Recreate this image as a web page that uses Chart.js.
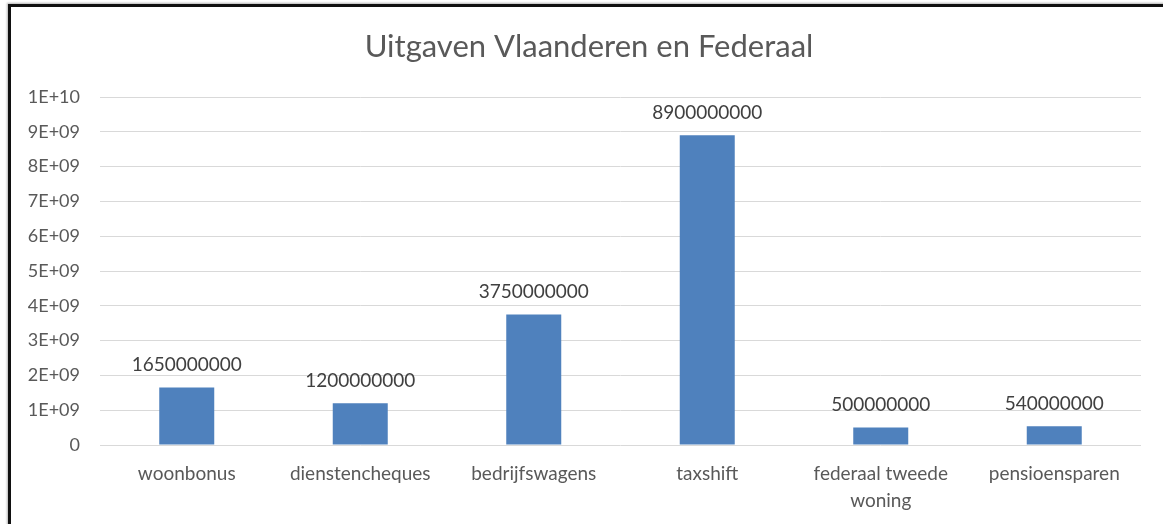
<!DOCTYPE html>
<html>
<head>
<meta charset="utf-8">
<script src="https://cdn.jsdelivr.net/npm/chart.js@4.4.1/dist/chart.umd.min.js"></script>
<style>
    html, body { margin: 0; padding: 0; background: #fff; overflow: hidden; }
    #wrap { position: relative; width: 1163px; height: 524px; }
    #frame {
        position: absolute; left: 8px; top: 4px; width: 1200px; height: 600px;
        border-left: 3px solid #111; border-top: 3px solid #111;
        box-shadow: -1px -1px 2px rgba(0,0,0,0.3);
    }
    canvas { position: absolute; left: 0; top: 0; }
</style>
</head>
<body>
<div id="wrap">
    <div id="frame"></div>
    <canvas id="uitgavenChart" width="1163" height="524"></canvas>
</div>
<script>
const categories = [
    "woonbonus", "dienstencheques", "bedrijfswagens",
    "taxshift", ["federaal tweede", "woning"], "pensioensparen"
];
const uitgaven = [1650000000, 1200000000, 3750000000, 8900000000, 500000000, 540000000];
const chartTitle = "Uitgaven Vlaanderen en Federaal";
const yMax = 10000000000;
const yStep = 1000000000;

const FONT = "Lato, 'Liberation Sans', sans-serif";

// Excel style scientific tick labels (1E+09)
const sciLabel = (value) => {
    if (value === 0) return "0";
    const exp = Math.floor(Math.log10(value));
    const mant = Math.round(value / Math.pow(10, exp));
    return `${mant}E+${String(exp).padStart(2, '0')}`;
};

// Title drawn by hand: the original chart is centred a little right of the visible area
const titlePlugin = {
    id: 'chartTitle',
    afterDraw(chart) {
        const ctx = chart.ctx;
        ctx.save();
        ctx.font = `31px ${FONT}`;
        ctx.fillStyle = '#595959';
        ctx.textAlign = 'center';
        ctx.textBaseline = 'middle';
        ctx.fillText(chartTitle, 589, 47);
        ctx.restore();
    }
};

// Small plugin to write the value above each bar
const valueLabels = {
    id: 'valueLabels',
    afterDatasetsDraw(chart) {
        const ctx = chart.ctx;
        const meta = chart.getDatasetMeta(0);
        ctx.save();
        ctx.font = `19px ${FONT}`;
        ctx.fillStyle = '#404040';
        ctx.textAlign = 'center';
        ctx.textBaseline = 'bottom';
        meta.data.forEach((bar, i) => {
            ctx.fillText(String(uitgaven[i]), bar.x, bar.y - 13);
        });
        ctx.restore();
    }
};

const ctx = document.getElementById('uitgavenChart').getContext('2d');
const myChart = new Chart(ctx, {
    type: 'bar',
    data: {
        labels: categories,
        datasets: [{
            data: uitgaven,
            backgroundColor: '#4F81BD',
            borderWidth: 0,
            barPercentage: 1,
            categoryPercentage: 0.317
        }]
    },
    options: {
        responsive: false,
        animation: false,
        layout: { padding: { left: 10, right: 22, top: 97, bottom: 0 } },
        plugins: {
            legend: { display: false },
            tooltip: { enabled: false },
            title: { display: false }
        },
        scales: {
            x: {
                grid: { display: false },
                border: { display: false },
                ticks: {
                    color: '#595959',
                    font: { family: FONT, size: 19, lineHeight: 1.4 },
                    padding: 8,
                    maxRotation: 0
                },
                afterFit: (scale) => { scale.height = 79; }
            },
            y: {
                min: 0,
                max: yMax,
                grid: { color: '#d9d9d9', drawTicks: false },
                border: { display: false },
                ticks: {
                    stepSize: yStep,
                    color: '#595959',
                    font: { family: FONT, size: 18 },
                    padding: 20,
                    callback: (v) => sciLabel(v)
                },
                afterFit: (scale) => { scale.width = 90; }
            }
        }
    },
    plugins: [valueLabels, titlePlugin]
});
</script>
</body>
</html>
